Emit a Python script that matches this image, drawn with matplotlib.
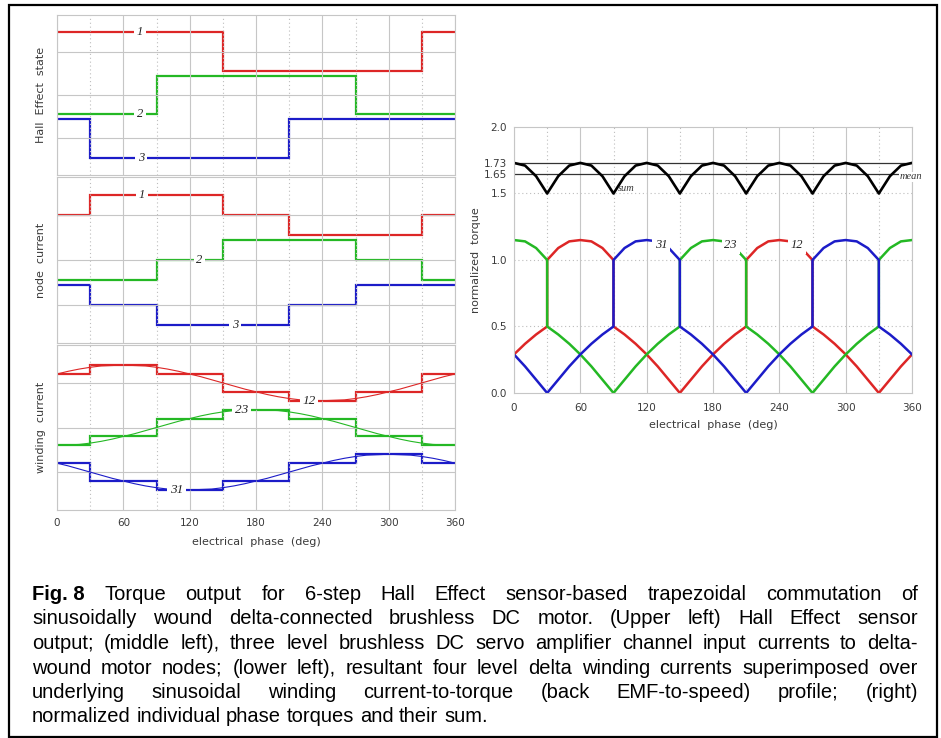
import matplotlib.pyplot as plt
from matplotlib.patches import Rectangle

plt.rcParams['font.family'] = ['DejaVu Sans']

# ---- data ----
phase_edges = [0, 30, 90, 150, 210, 270, 330, 360]
phase_ticks = [0, 60, 120, 180, 240, 300, 360]
phase_half = [30, 90, 150, 210, 270, 330]
phase_10 = list(range(0, 361, 10))

# Hall Effect sensor state (upper left), one value per 60 deg step
hall_1 = [3.45, 3.45, 3.45, 2.55, 2.55, 2.55, 3.45]
hall_2 = [1.55, 1.55, 2.45, 2.45, 2.45, 1.55, 1.55]
hall_3 = [1.45, 0.55, 0.55, 0.55, 1.45, 1.45, 1.45]

# node currents (middle left)
node_1 = [3.0, 3.45, 3.45, 3.0, 2.55, 2.55, 3.0]
node_2 = [1.55, 1.55, 2.0, 2.45, 2.45, 2.0, 1.55]
node_3 = [1.45, 1.0, 0.55, 0.55, 1.0, 1.45, 1.45]

# winding currents (lower left), steps and underlying sinusoid
wind_12 = [3.2, 3.4, 3.2, 2.8, 2.6, 2.8, 3.2]
wind_23 = [1.6, 1.8, 2.2, 2.4, 2.2, 1.8, 1.6]
wind_31 = [1.2, 0.8, 0.6, 0.8, 1.2, 1.4, 1.2]
sine_12 = [3.20, 3.26, 3.31, 3.35, 3.38, 3.39, 3.40, 3.39, 3.38, 3.35, 3.31, 3.26, 3.20,
           3.14, 3.07, 3.00, 2.93, 2.86, 2.80, 2.74, 2.69, 2.65, 2.62, 2.61, 2.60, 2.61,
           2.62, 2.65, 2.69, 2.74, 2.80, 2.86, 2.93, 3.00, 3.07, 3.14, 3.20]
sine_23 = [1.60, 1.61, 1.62, 1.65, 1.69, 1.74, 1.80, 1.86, 1.93, 2.00, 2.07, 2.14, 2.20,
           2.26, 2.31, 2.35, 2.38, 2.39, 2.40, 2.39, 2.38, 2.35, 2.31, 2.26, 2.20, 2.14,
           2.07, 2.00, 1.93, 1.86, 1.80, 1.74, 1.69, 1.65, 1.62, 1.61, 1.60]
sine_31 = [1.20, 1.14, 1.07, 1.00, 0.93, 0.86, 0.80, 0.74, 0.69, 0.65, 0.62, 0.61, 0.60,
           0.61, 0.62, 0.65, 0.69, 0.74, 0.80, 0.86, 0.93, 1.00, 1.07, 1.14, 1.20, 1.26,
           1.31, 1.35, 1.38, 1.39, 1.40, 1.39, 1.38, 1.35, 1.31, 1.26, 1.20]

# normalized torques (right), repeated phase where a curve jumps
torque_phase = [0, 10, 20, 30, 30, 40, 50, 60, 70, 80, 90, 90, 100, 110, 120, 130, 140,
                150, 150, 160, 170, 180, 190, 200, 210, 210, 220, 230, 240, 250, 260, 270,
                270, 280, 290, 300, 310, 320, 330, 330, 340, 350, 360]
torque_12 = [0.29, 0.37, 0.44, 0.50, 1.00, 1.09, 1.14, 1.15, 1.14, 1.09, 1.00, 0.50, 0.44,
             0.37, 0.29, 0.20, 0.10, 0.00, 0.00, 0.10, 0.20, 0.29, 0.37, 0.44, 0.50, 1.00,
             1.09, 1.14, 1.15, 1.14, 1.09, 1.00, 0.50, 0.44, 0.37, 0.29, 0.20, 0.10, 0.00,
             0.00, 0.10, 0.20, 0.29]
torque_23 = [1.15, 1.14, 1.09, 1.00, 0.50, 0.44, 0.37, 0.29, 0.20, 0.10, 0.00, 0.00, 0.10,
             0.20, 0.29, 0.37, 0.44, 0.50, 1.00, 1.09, 1.14, 1.15, 1.14, 1.09, 1.00, 0.50,
             0.44, 0.37, 0.29, 0.20, 0.10, 0.00, 0.00, 0.10, 0.20, 0.29, 0.37, 0.44, 0.50,
             1.00, 1.09, 1.14, 1.15]
torque_31 = [0.29, 0.20, 0.10, 0.00, 0.00, 0.10, 0.20, 0.29, 0.37, 0.44, 0.50, 1.00, 1.09,
             1.14, 1.15, 1.14, 1.09, 1.00, 0.50, 0.44, 0.37, 0.29, 0.20, 0.10, 0.00, 0.00,
             0.10, 0.20, 0.29, 0.37, 0.44, 0.50, 1.00, 1.09, 1.14, 1.15, 1.14, 1.09, 1.00,
             0.50, 0.44, 0.37, 0.29]
torque_sum = [1.73, 1.71, 1.63, 1.50, 1.50, 1.63, 1.71, 1.73, 1.71, 1.63, 1.50, 1.50, 1.63,
              1.71, 1.73, 1.71, 1.63, 1.50, 1.50, 1.63, 1.71, 1.73, 1.71, 1.63, 1.50, 1.50,
              1.63, 1.71, 1.73, 1.71, 1.63, 1.50, 1.50, 1.63, 1.71, 1.73, 1.71, 1.63, 1.50,
              1.50, 1.63, 1.71, 1.73]
torque_peak = 1.73
torque_mean = 1.65
torque_ticks = [0.0, 0.5, 1.0, 1.5, 1.65, 1.73, 2.0]
torque_ticklabels = ['0.0', '0.5', '1.0', '1.5', '1.65', '1.73', '2.0']
torque_grid = [0.5, 1.0, 1.5]

caption = [
    "Fig. 8 Torque output for 6-step Hall Effect sensor-based trapezoidal commutation of",
    "sinusoidally wound delta-connected brushless DC motor. (Upper left) Hall Effect sensor",
    "output; (middle left), three level brushless DC servo amplifier channel input currents to delta-",
    "wound motor nodes; (lower left), resultant four level delta winding currents superimposed over",
    "underlying sinusoidal winding current-to-torque (back EMF-to-speed) profile; (right)",
    "normalized individual phase torques and their sum.",
]

RED, GREEN, BLUE = '#dd2626', '#24b824', '#1c1cc8'
GRID = '#c6c6c6'
TXT = '#3a3a3a'
SERIF = ['Liberation Serif', 'DejaVu Serif']

fig = plt.figure(figsize=(9.41, 7.38), dpi=100)
FW, FH = 941, 738


def axes_px(x0, y0, x1, y1):
    return fig.add_axes([x0 / FW, 1 - y1 / FH, (x1 - x0) / FW, (y1 - y0) / FH])


def style_left(ax, show_x):
    ax.set_xlim(0, 360)
    ax.set_ylim(0.15, 3.85)
    ax.set_xticks(phase_ticks)
    ax.set_xticks(phase_half, minor=True)
    ax.set_yticks([1, 2, 3])
    ax.tick_params(which='both', length=0, labelleft=False, labelbottom=show_x,
                   labelsize=7.5, labelcolor=TXT, pad=6)
    ax.grid(True, which='major', color=GRID, lw=0.8)
    ax.grid(True, which='minor', axis='x', color='#bdbdbd', lw=0.8, ls=(0, (1, 2.5)))
    for s in ax.spines.values():
        s.set_color(GRID)
        s.set_linewidth(0.8)
    ax.yaxis.set_label_coords(-0.028, 0.5)


def tag(ax, x, y, s, size=9):
    ax.text(x, y, s, fontsize=size, family=SERIF, style='italic', color='#222',
            ha='center', va='center', zorder=5,
            bbox=dict(facecolor='white', edgecolor='none', pad=2))


# upper left: Hall Effect state
ax1 = axes_px(57, 15, 455, 175)
for vals, c in [(hall_1, RED), (hall_2, GREEN), (hall_3, BLUE)]:
    ax1.stairs(vals, phase_edges, baseline=None, color=c, lw=1.6)
style_left(ax1, False)
ax1.set_ylabel('Hall  Effect  state', fontsize=8, color=TXT)
tag(ax1, 75, 3.45, '1')
tag(ax1, 75, 1.55, '2')
tag(ax1, 76, 0.55, '3')

# middle left: node current
ax2 = axes_px(57, 177, 455, 343)
for vals, c in [(node_1, RED), (node_2, GREEN), (node_3, BLUE)]:
    ax2.stairs(vals, phase_edges, baseline=None, color=c, lw=1.6)
style_left(ax2, False)
ax2.set_ylabel('node  current', fontsize=8, color=TXT)
tag(ax2, 77, 3.45, '1')
tag(ax2, 129, 2.0, '2')
tag(ax2, 161, 0.55, '3')

# lower left: winding current
ax3 = axes_px(57, 345, 455, 510)
for steps, sine, c in [(wind_12, sine_12, RED), (wind_23, sine_23, GREEN),
                       (wind_31, sine_31, BLUE)]:
    ax3.plot(phase_10, sine, color=c, lw=0.8)
    ax3.stairs(steps, phase_edges, baseline=None, color=c, lw=1.6)
style_left(ax3, True)
ax3.set_ylabel('winding  current', fontsize=8, color=TXT)
ax3.set_xlabel('electrical  phase  (deg)', fontsize=8, color=TXT)
ax3.xaxis.set_label_coords(0.5, -0.165)
tag(ax3, 228, 2.6, '12', 9.5)
tag(ax3, 167, 2.4, '23', 9.5)
tag(ax3, 108, 0.6, '31', 9.5)

# right: normalized torque
ax4 = axes_px(514, 127, 912, 393)
ax4.set_xlim(0, 360)
ax4.set_ylim(0, 2.0)
ax4.set_xticks(phase_ticks)
ax4.set_xticks(phase_half, minor=True)
ax4.set_yticks(torque_ticks)
ax4.set_yticklabels(torque_ticklabels)
ax4.tick_params(which='both', length=0, labelsize=7.5, labelcolor=TXT)
ax4.tick_params(axis='x', pad=7)
ax4.tick_params(axis='y', pad=5)
ax4.grid(True, which='major', axis='x', color=GRID, lw=0.8)
ax4.grid(True, which='minor', axis='x', color='#bdbdbd', lw=0.8, ls=(0, (1, 2.5)))
for yv in torque_grid:
    ax4.axhline(yv, color='#bdbdbd', lw=0.8, ls=(0, (1, 2.5)), zorder=0.5)
for s in ax4.spines.values():
    s.set_color(GRID)
    s.set_linewidth(0.8)
ax4.axhline(torque_peak, color='#333', lw=0.9)
ax4.axhline(torque_mean, color='#333', lw=0.9)
ax4.plot(torque_phase, torque_sum, color='black', lw=1.9)
ax4.plot(torque_phase, torque_12, color=RED, lw=1.8)
ax4.plot(torque_phase, torque_23, color=GREEN, lw=1.8)
ax4.plot(torque_phase, torque_31, color=BLUE, lw=1.8)
ax4.set_ylabel('normalized  torque', fontsize=8, color=TXT)
ax4.yaxis.set_label_coords(-0.082, 0.5)
ax4.set_xlabel('electrical  phase  (deg)', fontsize=8, color=TXT)
ax4.xaxis.set_label_coords(0.5, -0.1)
tag(ax4, 133, 1.11, '31')
tag(ax4, 196, 1.11, '23')
tag(ax4, 256, 1.11, '12')
ax4.text(94, 1.535, 'sum', fontsize=7.5, family=SERIF, style='italic', color='#333',
         ha='left', va='center')
ax4.text(349, 1.625, 'mean', fontsize=7.5, family=SERIF, style='italic', color='#333',
         ha='left', va='center', clip_on=False, zorder=5,
         bbox=dict(facecolor='white', edgecolor='none', pad=0.5))

# outer frame
fig.patches.append(Rectangle((9 / FW, 1 - 737 / FH), 928 / FW, 732 / FH,
                             transform=fig.transFigure, fill=False,
                             edgecolor='black', lw=1.6))

# justified caption
renderer = fig.canvas.get_renderer()
cap_x0, cap_x1 = 32, 918
cap_y0, cap_dy = 600, 24.5
cap_family = ['Liberation Sans', 'DejaVu Sans']


def measure(size):
    rows = []
    for i, line in enumerate(caption):
        words = line.split(' ')
        if i == 0:
            words = ['Fig. 8'] + words[2:]
        texts = []
        for j, w in enumerate(words):
            t = fig.text(0, 0, w, fontsize=size, family=cap_family,
                         weight='bold' if (i == 0 and j == 0) else 'normal',
                         ha='left', va='baseline', color='black')
            texts.append(t)
        widths = [t.get_window_extent(renderer).width for t in texts]
        rows.append((texts, widths))
    return rows


size = 14.5
rows = measure(size)
space = 0.28 * size * 100 / 72
need = max(sum(w) + space * (len(w) - 1) for _, w in rows[:-1])
if need > cap_x1 - cap_x0:
    for texts, _ in rows:
        for t in texts:
            t.remove()
    size = size * (cap_x1 - cap_x0) / need
    rows = measure(size)
    space = 0.28 * size * 100 / 72

for i, (texts, widths) in enumerate(rows):
    if i < len(rows) - 1:
        gap = (cap_x1 - cap_x0 - sum(widths)) / (len(widths) - 1)
    else:
        gap = space
    x = cap_x0
    for t, w in zip(texts, widths):
        t.set_position((x / FW, 1 - (cap_y0 + i * cap_dy) / FH))
        x += w + gap

fig.savefig('out.png', dpi=100)
